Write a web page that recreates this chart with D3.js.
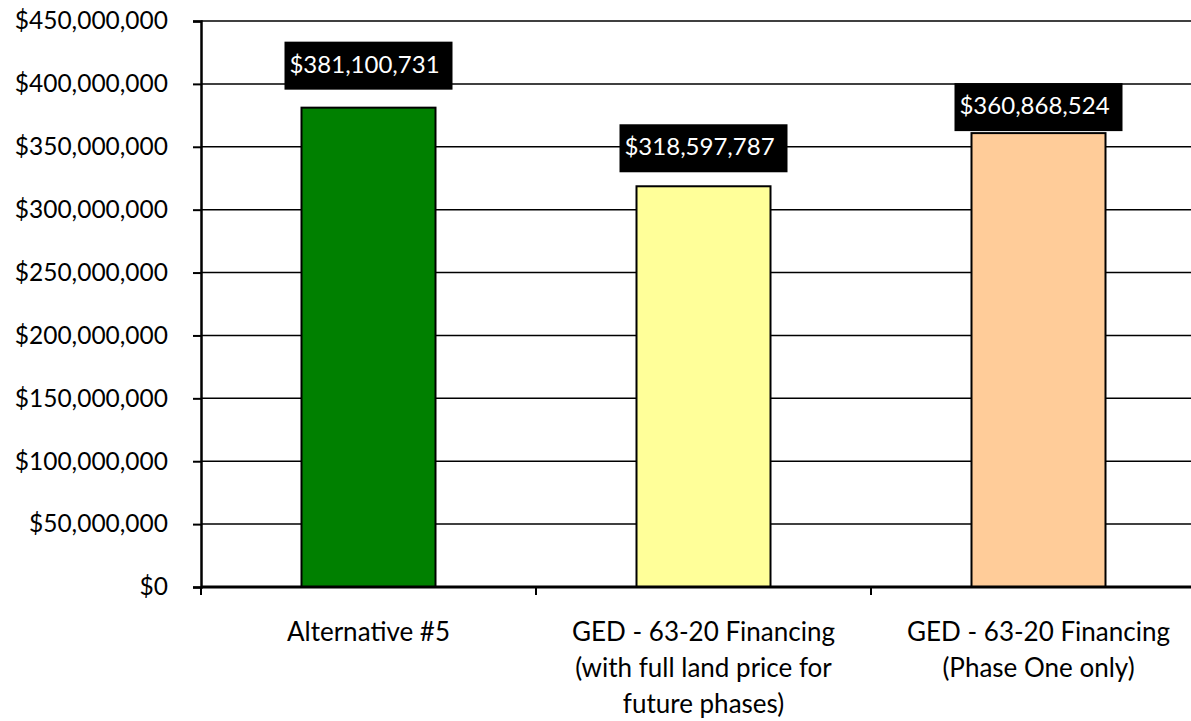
<!DOCTYPE html>
<html>
<head>
<meta charset="utf-8">
<script src="https://cdn.jsdelivr.net/npm/d3@7"></script>
<style>
  body { margin: 0; background: #fff; }
  svg text { font-family: "Lato", "Open Sans", sans-serif; fill: #000; }
</style>
</head>
<body>
<div id="chart"></div>
<script>
// chart data
const categories = ["Alternative #5", "GED - 63-20 Financing (with full land price for future phases)", "GED - 63-20 Financing (Phase One only)"];
const categoryLines = [
    ["Alternative #5"],
    ["GED - 63-20 Financing", "(with full land price for", "future phases)"],
    ["GED - 63-20 Financing", "(Phase One only)"]
];
const values = [381100731, 318597787, 360868524];
const barColors = ["#008000", "#ffff99", "#ffcc99"];
const labelGaps = [18, 14, 2]; // gap between bar top and label box, as placed in the original
const yTicks = [0, 50e6, 100e6, 150e6, 200e6, 250e6, 300e6, 350e6, 400e6, 450e6];

const width = 1191, height = 721;
const margin = { top: 21, left: 201, bottom: 134, right: -15 };

const svg = d3.select("#chart").append("svg")
    .attr("width", width)
    .attr("height", height);

const x = d3.scaleBand()
    .domain(categories)
    .range([margin.left, width - margin.right])
    .paddingInner(0.6)
    .paddingOuter(0.3);

const y = d3.scaleLinear()
    .domain([0, 450e6])
    .range([height - margin.bottom, margin.top]);

const fmt = d3.format("$,.0f");

// gridlines
svg.append("g")
    .selectAll("line")
    .data(yTicks.filter(d => d > 0))
    .join("line")
    .attr("x1", margin.left)
    .attr("x2", width - margin.right)
    .attr("y1", d => y(d))
    .attr("y2", d => y(d))
    .attr("stroke", "#000")
    .attr("stroke-width", 1.5);

// y axis
const yAxis = svg.append("g")
    .attr("transform", `translate(${margin.left},0)`)
    .call(d3.axisLeft(y).tickValues(yTicks).tickFormat(fmt).tickSize(8).tickPadding(25));
yAxis.select(".domain").attr("stroke-width", 2.5);
yAxis.selectAll(".tick line").attr("stroke-width", 2);
yAxis.selectAll(".tick text").attr("font-size", 24.5).attr("font-family", "Lato");

// bars
svg.append("g")
    .selectAll("rect")
    .data(values)
    .join("rect")
    .attr("x", (d, i) => x(categories[i]))
    .attr("y", d => y(d))
    .attr("width", x.bandwidth())
    .attr("height", d => y(0) - y(d))
    .attr("fill", (d, i) => barColors[i])
    .attr("stroke", "#000")
    .attr("stroke-width", 2);

// x axis line and category separators
const step = x.step();
const sepOffset = (step - x.bandwidth()) / 2;
const xAxis = svg.append("g");
xAxis.append("line")
    .attr("x1", margin.left)
    .attr("x2", width - margin.right)
    .attr("y1", y(0))
    .attr("y2", y(0))
    .attr("stroke", "#000")
    .attr("stroke-width", 3);
xAxis.selectAll(".sep")
    .data(categories)
    .join("line")
    .attr("class", "sep")
    .attr("x1", d => x(d) - sepOffset)
    .attr("x2", d => x(d) - sepOffset)
    .attr("y1", y(0))
    .attr("y2", y(0) + 8)
    .attr("stroke", "#000")
    .attr("stroke-width", 2);

// category labels
const catLabels = svg.append("g")
    .selectAll("text")
    .data(categories)
    .join("text")
    .attr("x", d => x(d) + x.bandwidth() / 2)
    .attr("y", y(0) + 54)
    .attr("text-anchor", "middle")
    .attr("font-size", 26);
catLabels.selectAll("tspan")
    .data((d, i) => categoryLines[i])
    .join("tspan")
    .attr("x", function () { return this.parentNode.getAttribute("x"); })
    .attr("dy", (d, i) => i === 0 ? 0 : 36)
    .text(d => d);

// data labels in black boxes
const boxW = 168, boxH = 48;
const labels = svg.append("g")
    .selectAll("g")
    .data(values)
    .join("g")
    .attr("transform", (d, i) => `translate(${x(categories[i]) + x.bandwidth() / 2},${y(d) - labelGaps[i] - boxH})`);
labels.append("rect")
    .attr("x", -boxW / 2)
    .attr("y", 0)
    .attr("width", boxW)
    .attr("height", boxH)
    .attr("fill", "#000");
labels.append("text")
    .attr("x", -4)
    .attr("y", 31)
    .attr("text-anchor", "middle")
    .attr("font-size", 24)
    .style("fill", "#fff")
    .text(d => fmt(d));
</script>
</body>
</html>
